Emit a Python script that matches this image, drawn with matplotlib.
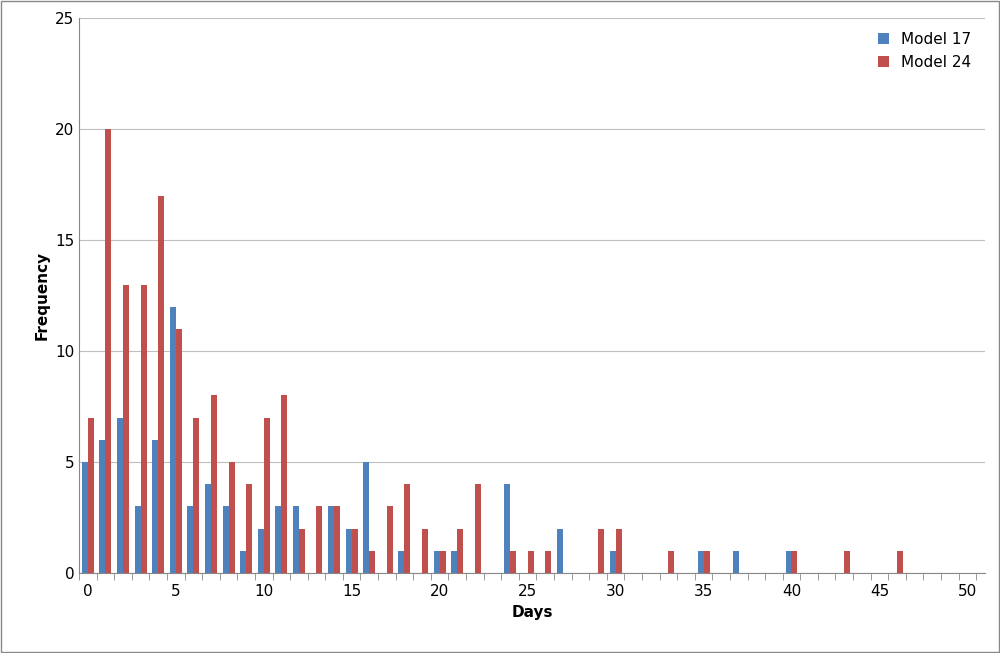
import matplotlib
matplotlib.use("Agg")
import matplotlib.pyplot as plt
import numpy as np

days = list(range(0, 51))
model17 = {0:5,1:6,2:7,3:3,4:6,5:12,6:3,7:4,8:3,9:1,10:2,11:3,12:3,14:3,15:2,16:5,18:1,20:1,21:1,24:4,27:2,30:1,35:1,37:1,40:1}
model24 = {0:7,1:20,2:13,3:13,4:17,5:11,6:7,7:8,8:5,9:4,10:7,11:8,12:2,13:3,14:3,15:2,16:1,17:3,18:4,19:2,20:1,21:2,22:4,24:1,25:1,26:1,29:2,30:2,33:1,35:1,40:1,43:1,46:1}
v17 = [model17.get(d, 0) for d in days]
v24 = [model24.get(d, 0) for d in days]

fig = plt.figure(figsize=(10, 6.53), dpi=100)
ax = fig.add_axes([0.079, 0.1225, 0.906, 0.8495])
x = np.array(days)
w = 0.34
ax.bar(x - w/2, v17, w, color='#4F81BD', label='Model 17', zorder=3)
ax.bar(x + w/2, v24, w, color='#C0504D', label='Model 24', zorder=3)
ax.set_xlim(-0.5, 51)
ax.set_ylim(0, 25)
ax.set_yticks(range(0, 26, 5))
ax.set_xticks(range(0, 51, 5))
ax.set_xticks(np.arange(-0.5, 51, 1), minor=True)
ax.yaxis.grid(True, color='#BFBFBF', lw=0.8, zorder=0)
for s in ['top', 'right']:
    ax.spines[s].set_visible(False)
ax.spines['left'].set_color('#888888')
ax.spines['bottom'].set_color('#888888')
ax.tick_params(axis='x', which='both', direction='out', length=5, color='#888888', labelsize=11)
ax.tick_params(axis='x', which='major', length=0, pad=8)
ax.tick_params(axis='y', length=0, labelsize=11)
ax.set_xlabel('Days', fontweight='bold', fontsize=11)
ax.set_ylabel('Frequency', fontweight='bold', fontsize=11)
ax.legend(loc='upper right', frameon=False, fontsize=11, handlelength=0.7, handleheight=0.7)
fig.patches.append(plt.Rectangle((0.001, 0.001), 0.998, 0.998, transform=fig.transFigure,
                                 fill=False, edgecolor='#888888', lw=1))
fig.savefig('out.png')
